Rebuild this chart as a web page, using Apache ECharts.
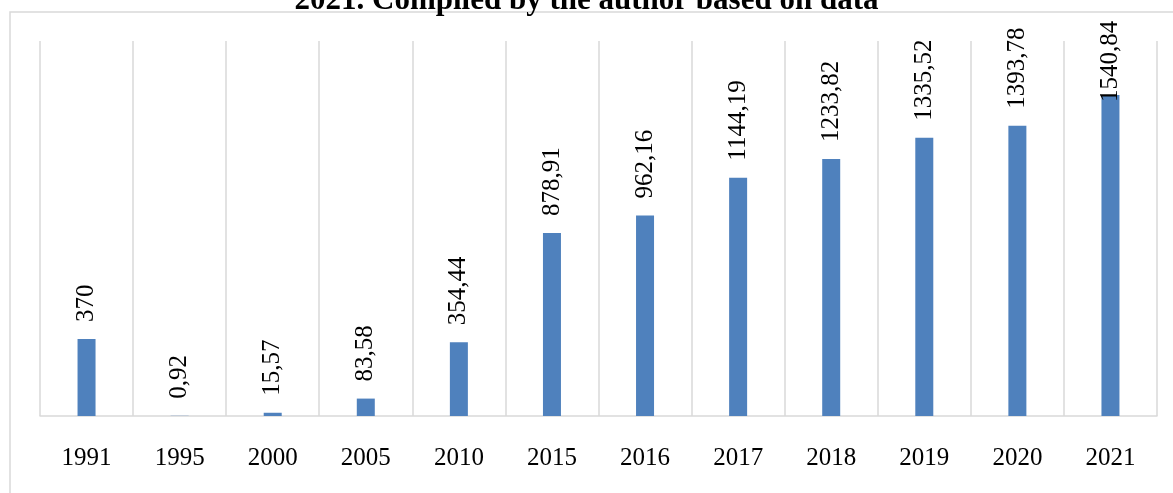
<!DOCTYPE html>
<html>
<head>
<meta charset="utf-8">
<script src="https://cdn.jsdelivr.net/npm/echarts@6/dist/echarts.min.js"></script>
<style>
    html, body { margin: 0; padding: 0; background: #fff; }
    #chart { width: 1173px; height: 493px; }
</style>
</head>
<body>
<div id="chart"></div>
<script>
// годы и значения
var years = ['1991', '1995', '2000', '2005', '2010', '2015', '2016', '2017', '2018', '2019', '2020', '2021'];
var values = [370, 0.92, 15.57, 83.58, 354.44, 878.91, 962.16, 1144.19, 1233.82, 1335.52, 1393.78, 1540.84];
var titleText = '2021. Compiled by the author based on data';

var serif = '"Liberation Serif", "Times New Roman", serif';
var gray = '#d9d9d9';

// последний подпись в оригинале заходит на столбец
var seriesData = values.map(function (v, i) {
    if (i === values.length - 1) {
        return { value: v, label: { distance: -7 } };
    }
    return v;
});

var chart = echarts.init(document.getElementById('chart'));
chart.setOption({
    animation: false,
    title: {
        text: titleText,
        left: 'center',
        top: -20,
        textStyle: { fontFamily: serif, fontSize: 31, fontWeight: 'bold', color: '#000' }
    },
    graphic: [{
        type: 'rect',
        shape: { x: 10, y: 12, width: 1200, height: 520 },
        style: { fill: 'none', stroke: gray, lineWidth: 1.5 },
        z: -1
    }],
    grid: { left: 40, right: 16, top: 41, bottom: 77 },
    xAxis: {
        type: 'category',
        data: years,
        axisLine: { lineStyle: { color: gray, width: 1.5 } },
        axisTick: { show: false },
        splitLine: { show: true, lineStyle: { color: gray, width: 1.5 } },
        axisLabel: { color: '#000', fontFamily: serif, fontSize: 25, margin: 30 }
    },
    yAxis: {
        type: 'value',
        min: 0,
        max: 1800,
        show: false,
        splitLine: { show: false }
    },
    series: [{
        type: 'bar',
        data: seriesData,
        barWidth: 18,
        itemStyle: { color: '#4F81BD' },
        label: {
            show: true,
            position: 'top',
            distance: 17,
            rotate: 90,
            align: 'left',
            verticalAlign: 'middle',
            color: '#000',
            fontFamily: serif,
            fontSize: 25,
            formatter: function (p) {
                return String(p.value).replace('.', ',');
            }
        }
    }]
});
</script>
</body>
</html>
